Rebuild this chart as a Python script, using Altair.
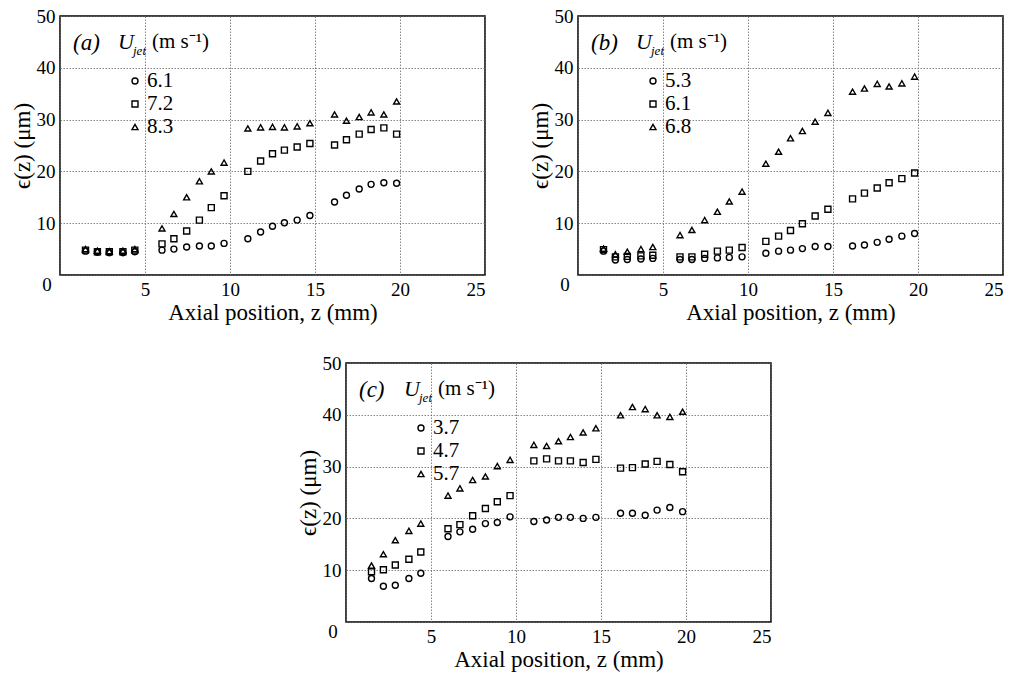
import altair as alt
import pandas as pd

# axial positions (mm), shared by all three panels
Z = [1.5, 2.2, 2.9, 3.7, 4.4, 6.0, 6.7, 7.45, 8.2, 8.9, 9.65,
     11.05, 11.8, 12.5, 13.2, 13.95, 14.7, 16.15, 16.85, 17.6, 18.3, 19.05, 19.8]

# panel (a)
A_SPEEDS = ["6.1", "7.2", "8.3"]
A_CIRCLE = [4.6, 4.4, 4.3, 4.3, 4.5, 4.8, 5.0, 5.4, 5.6, 5.6, 6.1,
            7.0, 8.3, 9.4, 10.1, 10.6, 11.5, 14.1, 15.4, 16.6, 17.5, 17.8, 17.7]
A_SQUARE = [4.8, 4.5, 4.5, 4.5, 4.8, 6.0, 7.0, 8.5, 10.6, 13.0, 15.3,
            20.0, 22.0, 23.4, 24.1, 24.7, 25.4, 25.1, 26.1, 27.2, 28.1, 28.4, 27.2]
A_TRIANGLE = [5.0, 4.7, 4.6, 4.7, 5.0, 9.0, 11.8, 15.0, 18.1, 20.0, 21.7,
              28.3, 28.5, 28.6, 28.5, 28.7, 29.3, 31.0, 29.8, 30.5, 31.4, 31.0, 33.5]

# panel (b)
B_SPEEDS = ["5.3", "6.1", "6.8"]
B_CIRCLE = [4.6, 2.9, 3.0, 3.1, 3.2, 3.0, 3.0, 3.2, 3.3, 3.4, 3.5,
            4.2, 4.6, 4.8, 5.1, 5.5, 5.5, 5.6, 5.8, 6.3, 6.9, 7.5, 8.0]
B_SQUARE = [4.9, 3.5, 3.6, 3.7, 3.8, 3.5, 3.5, 4.0, 4.6, 4.8, 5.3,
            6.5, 7.5, 8.6, 9.9, 11.4, 12.7, 14.7, 15.8, 16.8, 17.8, 18.6, 19.7]
B_TRIANGLE = [5.1, 4.0, 4.5, 5.0, 5.4, 7.7, 8.7, 10.6, 12.2, 14.2, 16.1,
              21.5, 23.8, 26.4, 27.8, 29.6, 31.3, 35.4, 36.0, 36.9, 36.4, 37.0, 38.3]

# panel (c)
C_SPEEDS = ["3.7", "4.7", "5.7"]
C_CIRCLE = [8.4, 6.9, 7.1, 8.4, 9.4, 16.5, 17.4, 17.9, 19.0, 19.2, 20.3,
            19.4, 19.7, 20.2, 20.2, 20.0, 20.2, 21.0, 21.0, 20.6, 21.6, 22.1, 21.3]
C_SQUARE = [9.7, 10.1, 11.0, 12.1, 13.5, 18.0, 18.8, 20.5, 21.9, 23.2, 24.4,
            31.1, 31.5, 31.1, 31.1, 30.8, 31.4, 29.7, 29.8, 30.5, 31.0, 30.4, 29.0]
C_TRIANGLE = [10.9, 13.1, 15.8, 17.6, 19.0, 24.4, 25.8, 27.4, 28.1, 30.1, 31.3,
              34.2, 34.0, 34.9, 35.7, 36.6, 37.4, 39.9, 41.5, 41.1, 39.9, 39.6, 40.6]

X_TICKS = [0, 5, 10, 15, 20, 25]
Y_TICKS = [0, 10, 20, 30, 40, 50]
SHAPES = ["circle", "square", "triangle-up"]
FONT = "Liberation Serif"
W, H = 425, 259
MSIZE = 36
MSTROKE = 1.4


def txt(s, **kw):
    return alt.Chart(pd.DataFrame({"t": [s]})).mark_text(font=FONT, color="black", **kw)


def panel(letter, speeds, series):
    rows = []
    for sp, shp, vals in zip(speeds, SHAPES, series):
        for z, e in zip(Z, vals):
            rows.append({"z": z, "eps": e, "U": sp, "shape": shp})
    df = pd.DataFrame(rows)
    x = alt.X("z:Q", scale=alt.Scale(domain=[0, 25], nice=False),
              axis=alt.Axis(values=X_TICKS, labelExpr="datum.value == 0 ? '' : datum.label",
                            title="Axial position, z (mm)"))
    y = alt.Y("eps:Q", scale=alt.Scale(domain=[0, 50], nice=False),
              axis=alt.Axis(values=Y_TICKS, labelExpr="datum.value == 0 ? '' : datum.label",
                            title="ϵ(z) (μm)"))
    pts = alt.Chart(df).mark_point(filled=False, size=MSIZE, strokeWidth=MSTROKE,
                                   color="black", opacity=1).encode(
        x=x, y=y, shape=alt.Shape("shape:N", scale=None))
    layers = [pts]
    layers.append(txt("0", fontSize=19, align="center", baseline="middle").encode(
        x=alt.value(-13), y=alt.value(H + 10), text="t:N"))
    layers.append(txt("(" + letter + ")", fontSize=23, fontStyle="italic", align="left",
                      baseline="middle").encode(x=alt.value(13), y=alt.value(27), text="t:N"))
    layers.append(txt("U", fontSize=22, fontStyle="italic", align="left",
                      baseline="middle").encode(x=alt.value(58), y=alt.value(26), text="t:N"))
    layers.append(txt("jet", fontSize=13, fontStyle="italic", align="left",
                      baseline="middle").encode(x=alt.value(73), y=alt.value(35), text="t:N"))
    layers.append(txt("(m s⁻¹)", fontSize=21, align="left",
                      baseline="middle").encode(x=alt.value(92), y=alt.value(26), text="t:N"))
    for i, (sp, shp) in enumerate(zip(speeds, SHAPES)):
        yy = 65 + 23 * i
        layers.append(alt.Chart(pd.DataFrame({"t": [sp]})).mark_point(
            shape=shp, filled=False, size=MSIZE, strokeWidth=MSTROKE, color="black",
            opacity=1).encode(x=alt.value(75), y=alt.value(yy)))
        layers.append(txt(sp, fontSize=21, align="left", baseline="middle").encode(
            x=alt.value(87), y=alt.value(yy), text="t:N"))
    return alt.layer(*layers).properties(width=W, height=H)


pa = panel("a", A_SPEEDS, [A_CIRCLE, A_SQUARE, A_TRIANGLE])
pb = panel("b", B_SPEEDS, [B_CIRCLE, B_SQUARE, B_TRIANGLE])
pc = panel("c", C_SPEEDS, [C_CIRCLE, C_SQUARE, C_TRIANGLE])

spacer = alt.Chart(pd.DataFrame({"t": [0]})).mark_point(opacity=0).properties(
    width=225, height=10, view=alt.ViewConfig(stroke="transparent"))

chart = alt.vconcat(
    alt.hconcat(pa, pb, spacing=42),
    alt.hconcat(spacer, pc, spacing=10),
    spacing=28
).properties(
    padding={"left": 10, "top": 6, "right": 0, "bottom": 0},
    background="white"
).configure_view(
    stroke="black", strokeWidth=1.5
).configure_axis(
    labelFont=FONT, labelFontSize=19, labelColor="black", labelPadding=5,
    titleFont=FONT, titleFontSize=23, titleFontWeight="normal", titleColor="black",
    titlePadding=2,
    grid=True, gridDash=[1.5, 1.5], gridColor="#666666", gridWidth=0.8,
    ticks=False, domain=False
)

chart.save("out.html", embed_options={"renderer": "svg", "actions": False})
